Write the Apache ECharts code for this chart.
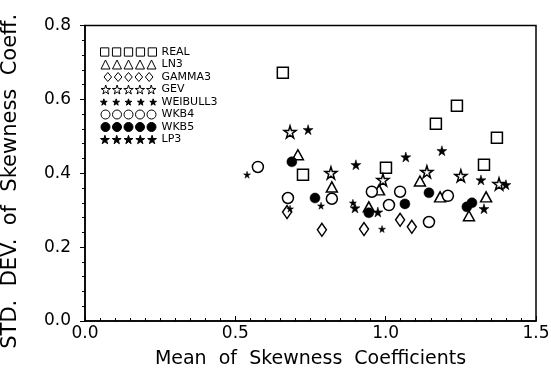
<!DOCTYPE html>
<html>
<head>
<meta charset="utf-8">
<script src="https://cdn.jsdelivr.net/npm/echarts@6/dist/echarts.min.js"></script>
<style>
  html, body { margin: 0; padding: 0; background: #fff; }
  #chart { width: 551px; height: 370px; }
</style>
</head>
<body>
<div id="chart"></div>
<script>
// mean / std. dev. of skewness coefficients, per method
const seriesNames = ['REAL', 'LN3', 'GAMMA3', 'GEV', 'WEIBULL3', 'WKB4', 'WKB5', 'LP3']
const real = [[0.658, 0.672], [0.725, 0.396], [1.001, 0.415], [1.167, 0.534], [1.237, 0.583], [1.370, 0.496], [1.327, 0.423]]
const ln3 = [[0.708, 0.450], [0.821, 0.363], [0.944, 0.309], [0.978, 0.355], [1.114, 0.379], [1.181, 0.336], [1.334, 0.336], [1.277, 0.285]]
const gamma3 = [[0.672, 0.295], [0.788, 0.247], [0.928, 0.249], [1.048, 0.274], [1.087, 0.255]]
const gev = [[0.682, 0.512], [0.818, 0.401], [0.991, 0.382], [1.137, 0.404], [1.250, 0.393], [1.377, 0.371]]
const weibull3 = [[0.539, 0.396], [0.682, 0.304], [0.785, 0.312], [0.891, 0.320], [0.988, 0.249]]
const wkb4 = [[0.575, 0.417], [0.675, 0.333], [0.821, 0.331], [0.954, 0.350], [1.011, 0.314], [1.048, 0.350], [1.207, 0.339], [1.144, 0.268]]
const wkb5 = [[0.688, 0.431], [0.765, 0.333], [0.944, 0.293], [1.064, 0.317], [1.144, 0.347], [1.287, 0.320], [1.270, 0.309]]
const lp3 = [[0.742, 0.518], [0.901, 0.423], [0.898, 0.306], [0.974, 0.295], [1.067, 0.444], [1.187, 0.461], [1.317, 0.382], [1.327, 0.304], [1.400, 0.369]]

const xTicks = [0, 0.5, 1.0, 1.5]
const yTicks = [0, 0.2, 0.4, 0.6, 0.8]

// single-shape paths (100x100 box)
const shapes = {
  rect: 'M10,10 L90,10 L90,90 L10,90 Z',
  tri: 'M50,5 L95,95 L5,95 Z',
  diamond: 'M50,0 L92,50 L50,100 L8,50 Z',
  star: 'M50,0 L61,35 L98,35 L68,57 L79,91 L50,70 L21,91 L32,57 L2,35 L39,35 Z',
  circle: 'M5,50 A45,45 0 1 0 95,50 A45,45 0 1 0 5,50 Z'
}
function transformed(d, dx, k) {
  // scale by k and shift x of every absolute point, arcs included
  const f = v => +(v * k).toFixed(2)
  return d.replace(/([ML])([\d.]+),([\d.]+)/g, (m, c, a, b) => c + (f(a) + dx) + ',' + f(b))
    .replace(/A45,45 0 1 0 ([\d.]+),([\d.]+)/g, (m, a, b) => 'A' + f(45) + ',' + f(45) + ' 0 1 0 ' + (f(a) + dx) + ',' + f(b))
}
// five shapes in a row for the legend swatch
function legendIcon(d, k) {
  let out = ''
  for (let i = 0; i < 5; i++) out += transformed(d, i * 115, k) + ' '
  return 'path://' + out
}

const hollow = {color: '#fff', borderColor: '#000', borderWidth: 1.5, opacity: 1}
const solid = {color: '#000', borderColor: '#000', borderWidth: 0.5, opacity: 1}

const defs = [
  {data: real, shape: 'rect', size: 11, style: hollow, k: 1},
  {data: ln3, shape: 'tri', size: [11, 10], style: hollow, k: 1},
  {data: gamma3, shape: 'diamond', size: [9, 13], style: hollow, k: 1},
  {data: gev, shape: 'star', size: 12, style: hollow, k: 1},
  {data: weibull3, shape: 'star', size: 7, style: solid, k: 0.65},
  {data: wkb4, shape: 'circle', size: 11, style: hollow, k: 1},
  {data: wkb5, shape: 'circle', size: 10, style: solid, k: 1},
  {data: lp3, shape: 'star', size: 10, style: solid, k: 0.9}
]

const chart = echarts.init(document.getElementById('chart'))
const font = 'DejaVu Sans'

chart.setOption({
  backgroundColor: '#fff',
  animation: false,
  grid: {
    left: 85, top: 25.5, right: 15, bottom: 49, show: true,
    borderColor: '#000', borderWidth: 1.5, outerBoundsMode: 'none'
  },
  legend: {
    orient: 'vertical', left: 100, top: 46, padding: 0,
    itemWidth: 56, itemHeight: 9, itemGap: 0.5,
    itemStyle: {borderWidth: 1},
    textStyle: {color: '#000', fontFamily: font, fontSize: 11, lineHeight: 12},
    data: seriesNames.map((n, i) => ({name: n, icon: legendIcon(shapes[defs[i].shape], defs[i].k)}))
  },
  xAxis: {
    type: 'value', min: xTicks[0], max: xTicks[xTicks.length - 1], interval: 0.5,
    axisLine: {lineStyle: {color: '#000', width: 1.5}},
    axisTick: {inside: true, length: 5, lineStyle: {color: '#000'}},
    minorTick: {show: true, splitNumber: 10, length: 3, lineStyle: {color: '#000'}},
    splitLine: {show: false},
    axisLabel: {color: '#000', fontFamily: font, fontSize: 17, margin: 4, formatter: v => v.toFixed(1)},
    name: 'Mean  of  Skewness  Coefficients', nameLocation: 'middle', nameGap: 29,
    nameTextStyle: {color: '#000', fontFamily: font, fontSize: 19}
  },
  yAxis: {
    type: 'value', min: yTicks[0], max: yTicks[yTicks.length - 1], interval: 0.2,
    axisLine: {lineStyle: {color: '#000', width: 1.5}},
    axisTick: {length: 5, lineStyle: {color: '#000'}},
    minorTick: {show: true, splitNumber: 5, length: 3, lineStyle: {color: '#000'}},
    splitLine: {show: false},
    axisLabel: {color: '#000', fontFamily: font, fontSize: 17, margin: 14, formatter: v => v.toFixed(1)},
    name: 'STD.  DEV.  of  Skewness  Coeff.', nameLocation: 'middle', nameGap: 64,
    nameTextStyle: {color: '#000', fontFamily: font, fontSize: 21, padding: [0, 16, 0, 0]}
  },
  series: defs.map((d, i) => ({
    name: seriesNames[i],
    type: 'scatter',
    data: d.data,
    symbol: 'path://' + shapes[d.shape],
    symbolSize: d.size,
    itemStyle: d.style,
    emphasis: {disabled: true}
  }))
})
</script>
</body>
</html>
